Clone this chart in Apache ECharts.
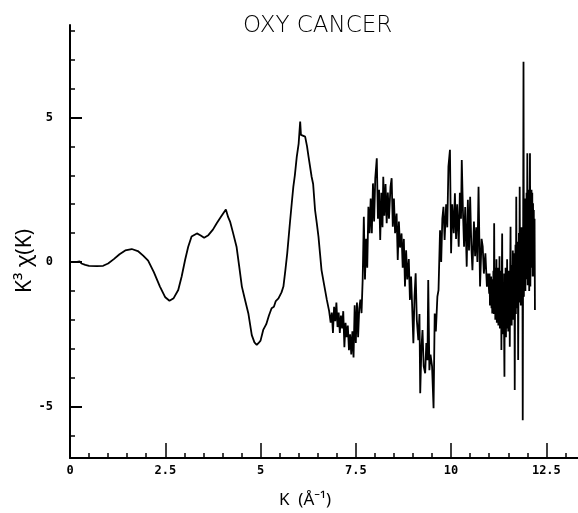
<!DOCTYPE html>
<html>
<head>
<meta charset="utf-8">
<title>OXY CANCER</title>
<script src="https://cdn.jsdelivr.net/npm/echarts@6/dist/echarts.min.js"></script>
<style>
  html, body { margin: 0; padding: 0; background: #fff; }
  #main { width: 578px; height: 513px; }
</style>
</head>
<body>
<div id="main"></div>
<script>
// k values (1/Angstrom)
var kValues = [
  0.00, 0.15, 0.25, 0.30, 0.40, 0.50, 0.70, 0.87, 1.00, 1.15, 1.30, 1.45, 1.62, 1.78, 1.92, 2.05,
  2.20, 2.36, 2.50, 2.61, 2.72, 2.84, 2.93, 3.02, 3.10, 3.19, 3.33, 3.43, 3.52, 3.63, 3.75, 3.85,
  3.97, 4.09, 4.15, 4.20, 4.28, 4.37, 4.44, 4.51, 4.60, 4.68, 4.77, 4.84, 4.90, 4.95, 5.00, 5.07,
  5.15, 5.22, 5.29, 5.35, 5.40, 5.47, 5.55, 5.60, 5.65, 5.70, 5.77, 5.82, 5.86, 5.90, 5.95, 6.00,
  6.04, 6.06, 6.10, 6.17, 6.22, 6.26, 6.34, 6.38, 6.43, 6.48, 6.52, 6.56, 6.60, 6.67, 6.74, 6.80,
  6.84, 6.87, 6.90, 6.93, 6.96, 6.99, 7.02, 7.05, 7.08, 7.11, 7.14, 7.17, 7.20, 7.23, 7.26, 7.29,
  7.32, 7.35, 7.38, 7.41, 7.44, 7.47, 7.50, 7.53, 7.56, 7.59, 7.62, 7.65, 7.68, 7.71, 7.74, 7.77,
  7.80, 7.83, 7.86, 7.89, 7.92, 7.95, 7.98, 8.01, 8.05, 8.08, 8.11, 8.14, 8.17, 8.20, 8.22, 8.25,
  8.28, 8.31, 8.34, 8.37, 8.41, 8.44, 8.47, 8.50, 8.53, 8.57, 8.60, 8.63, 8.66, 8.70, 8.73, 8.76,
  8.79, 8.82, 8.85, 8.89, 8.92, 8.95, 8.98, 9.01, 9.04, 9.07, 9.10, 9.14, 9.17, 9.19, 9.22, 9.25,
  9.28, 9.32, 9.35, 9.38, 9.40, 9.43, 9.46, 9.50, 9.54, 9.57, 9.60, 9.64, 9.67, 9.71, 9.74, 9.77,
  9.80, 9.83, 9.87, 9.90, 9.93, 9.97, 10.00, 10.03, 10.07, 10.10, 10.13, 10.16, 10.20, 10.23, 10.26, 10.28,
  10.31, 10.34, 10.37, 10.41, 10.44, 10.47, 10.50, 10.53, 10.56, 10.60, 10.63, 10.66, 10.69, 10.72, 10.76, 10.80,
  10.83, 10.86, 10.90, 10.94, 10.97,
  11.00, 11.01, 11.02, 11.03, 11.04, 11.05, 11.06, 11.07, 11.08, 11.09, 11.10, 11.11, 11.12, 11.13, 11.14, 11.15,
  11.16, 11.17, 11.18, 11.19, 11.20, 11.21, 11.22, 11.23, 11.24, 11.25, 11.26, 11.27, 11.28, 11.29, 11.30, 11.31,
  11.32, 11.33, 11.34, 11.35, 11.36, 11.37, 11.38, 11.39, 11.40, 11.41, 11.42, 11.43, 11.44, 11.45, 11.46, 11.47,
  11.48, 11.49, 11.50, 11.51, 11.52, 11.53, 11.54, 11.55, 11.56, 11.57, 11.58, 11.59, 11.60, 11.61, 11.62, 11.63,
  11.64, 11.65, 11.66, 11.67, 11.68, 11.69, 11.70, 11.71, 11.72, 11.73, 11.74, 11.75, 11.76, 11.77, 11.78, 11.79,
  11.80, 11.81, 11.82, 11.83, 11.84, 11.85, 11.86, 11.87, 11.88, 11.89, 11.90, 11.91, 11.92, 11.93, 11.94, 11.95,
  11.96, 11.97, 11.98, 11.99, 12.00, 12.01, 12.02, 12.03, 12.04, 12.05, 12.06, 12.07, 12.08, 12.09, 12.10, 12.11,
  12.12, 12.13, 12.14, 12.15, 12.16, 12.17, 12.18, 12.19, 12.20
];

// k^3 chi(k) values, same order as kValues
var chiValues = [
  0.00, 0.00, 0.02, -0.05, -0.10, -0.13, -0.14, -0.13, -0.05, 0.10, 0.27, 0.40, 0.45, 0.38, 0.22, 0.05,
  -0.35, -0.85, -1.22, -1.34, -1.25, -0.97, -0.50, 0.07, 0.52, 0.88, 0.99, 0.92, 0.84, 0.93, 1.12, 1.34,
  1.58, 1.82, 1.55, 1.40, 1.00, 0.53, -0.15, -0.85, -1.35, -1.78, -2.53, -2.78, -2.87, -2.80, -2.72, -2.35,
  -2.15, -1.85, -1.60, -1.55, -1.35, -1.26, -1.05, -0.85, -0.30, 0.30, 1.34, 2.05, 2.60, 3.00, 3.64, 4.10,
  4.86, 4.40, 4.39, 4.34, 4.00, 3.64, 2.95, 2.70, 1.80, 1.30, 0.88, 0.30, -0.28, -0.80, -1.31, -1.70,
  -2.10, -1.75, -2.45, -1.55, -2.05, -1.40, -2.25, -1.75, -2.45, -1.85, -2.30, -1.70, -2.95, -2.10, -2.60, -2.20,
  -3.05, -2.50, -3.20, -2.40, -3.30, -1.50, -2.80, -1.40, -2.60, -1.60, -1.30, -1.77, -0.60, 1.57, -0.60, 0.80,
  -0.20, 1.91, 1.00, 2.20, 1.00, 2.72, 1.40, 2.90, 3.59, 1.50, 2.50, 0.76, 2.40, 1.20, 2.95, 1.60,
  2.70, 1.34, 2.40, 1.50, 2.60, 2.90, 1.22, 2.20, 1.00, 1.68, 0.07, 1.40, 0.50, 0.99, -0.20, 0.80,
  -0.85, 0.41, -0.60, 0.10, -1.31, -0.50, -1.60, -2.81, -1.20, -0.39, -2.00, -2.70, -1.80, -4.54, -3.00, -2.35,
  -3.60, -3.85, -2.80, -3.40, -0.62, -3.74, -3.20, -3.60, -5.06, -1.78, -2.40, -1.20, -0.97, 1.10, 0.00, 1.50,
  1.91, 0.76, 2.00, 1.20, 3.30, 3.88, 0.30, 2.00, 1.00, 2.38, 0.80, 2.00, 0.53, 2.40, 1.50, 3.53,
  1.80, 0.53, 1.90, -0.16, 2.15, 0.40, 2.26, 0.60, -0.28, 1.40, 0.20, 1.20, 0.00, 2.60, -0.85, 0.80,
  0.53, -0.40, 0.30, -0.85, -0.40,
  -1.10, -0.40, -1.50, -0.60, -1.30, -0.50, -1.60, -0.70, -1.78, -0.60, -1.50, -0.30, -1.80, 1.34, -1.20, -0.20,
  -2.00, -0.50, -1.90, 0.10, -2.10, -0.40, -1.70, -0.20, -2.20, -0.60, -1.80, 0.20, -2.30, -0.50, -2.00, -0.30,
  -3.04, -0.60, 0.99, -2.20, -0.40, -2.50, -0.80, -2.40, -3.97, -0.40, -2.20, -0.20, -2.60, -0.74, -2.30, 0.10,
  -2.10, -0.50, -2.40, -0.30, -1.90, -0.60, -2.93, -0.40, 1.22, -1.80, -0.10, -2.20, -0.30, -1.60, 0.40, -2.00,
  -0.20, -1.70, 0.30, -4.43, -0.50, 0.60, -1.80, 2.26, -1.20, 0.50, -1.60, 0.70, -3.39, -0.40, 1.00, -1.40,
  2.60, -1.00, 0.80, -1.50, 1.20, 0.20, -0.80, 1.20, -5.47, 0.40, 6.93, -1.20, 1.80, -0.60, 2.20, -1.00,
  1.50, -0.40, 2.40, -0.60, 3.76, -0.80, 2.20, -0.40, 2.50, -1.00, 2.00, 3.76, -0.85, 2.00, -0.20, 2.50,
  0.00, 2.40, -0.50, 2.03, 0.10, 1.80, -0.50, 1.50, -1.66
];

// tick positions
var yLabelTicks = [-5, 0, 5];
var yMinorTicks = [-6, -5, -4, -3, -2, -1, 0, 1, 2, 3, 4, 5, 6, 7, 8];
var xMinorTicks = [0, 0.5, 1, 1.5, 2, 2.5, 3, 3.5, 4, 4.5, 5, 5.5, 6, 6.5, 7, 7.5, 8, 8.5, 9, 9.5,
  10, 10.5, 11, 11.5, 12, 12.5, 13];

var X_MIN = 0, X_MAX = 13.33, Y_MIN = -6.78, Y_MAX = 8.2;

var seriesData = [];
for (var i = 0; i < kValues.length; i++) {
  seriesData.push([kValues[i], chiValues[i]]);
}

var labelFont = {
  color: '#000',
  fontFamily: 'DejaVu Sans Mono',
  fontWeight: 'bold',
  fontSize: 12
};

var myChart = echarts.init(document.getElementById('main'));

var option = {
  animation: false,
  backgroundColor: '#fff',
  title: {
    text: 'OXY CANCER',
    left: 238,
    top: 10,
    textStyle: {
      color: '#000',
      fontFamily: 'DejaVu Sans',
      fontWeight: 200,
      fontSize: 23
    }
  },
  grid: {
    left: 70,
    top: 25,
    right: 0,
    bottom: 55,
    outerBoundsMode: 'none'
  },
  xAxis: [
    {
      type: 'value',
      min: X_MIN,
      max: X_MAX,
      interval: 2.5,
      axisLine: { onZero: false, lineStyle: { color: '#000', width: 2 } },
      axisTick: { inside: true, length: 15, lineStyle: { color: '#000', width: 1.5 } },
      axisLabel: Object.assign({ margin: 7, showMaxLabel: false }, labelFont),
      splitLine: { show: false }
    },
    {
      type: 'value',
      min: X_MIN,
      max: X_MAX,
      position: 'bottom',
      axisLine: { show: false, onZero: false },
      axisTick: { inside: true, length: 5, customValues: xMinorTicks, lineStyle: { color: '#000', width: 1.5 } },
      axisLabel: { show: false },
      splitLine: { show: false }
    }
  ],
  yAxis: [
    {
      type: 'value',
      min: Y_MIN,
      max: Y_MAX,
      axisLine: { show: true, onZero: false, lineStyle: { color: '#000', width: 2 } },
      axisTick: { inside: true, length: 12, customValues: yLabelTicks, lineStyle: { color: '#000', width: 2 } },
      axisLabel: Object.assign({ margin: 17, customValues: yLabelTicks }, labelFont),
      splitLine: { show: false }
    },
    {
      type: 'value',
      min: Y_MIN,
      max: Y_MAX,
      position: 'left',
      axisLine: { show: false, onZero: false },
      axisTick: { show: true, inside: true, length: 5, customValues: yMinorTicks, lineStyle: { color: '#000', width: 1.5 } },
      axisLabel: { show: false },
      splitLine: { show: false }
    }
  ],
  graphic: [
    {
      type: 'text',
      x: 25,
      y: 261,
      rotation: Math.PI / 2,
      style: {
        text: 'K\u00B3 \u03C7(K)',
        fill: '#000',
        font: '21px "Noto Sans"',
        align: 'center',
        verticalAlign: 'middle'
      }
    },
    {
      type: 'text',
      x: 305,
      y: 500,
      style: {
        text: 'K  (\u00C5\u207B\u00B9)',
        fill: '#000',
        font: '17px "Noto Sans"',
        align: 'center',
        verticalAlign: 'middle'
      }
    }
  ],
  series: [
    {
      type: 'line',
      xAxisIndex: 0,
      yAxisIndex: 0,
      data: seriesData,
      showSymbol: false,
      smooth: false,
      lineStyle: { color: '#000', width: 1.8 }
    }
  ]
};

myChart.setOption(option);
</script>
</body>
</html>
